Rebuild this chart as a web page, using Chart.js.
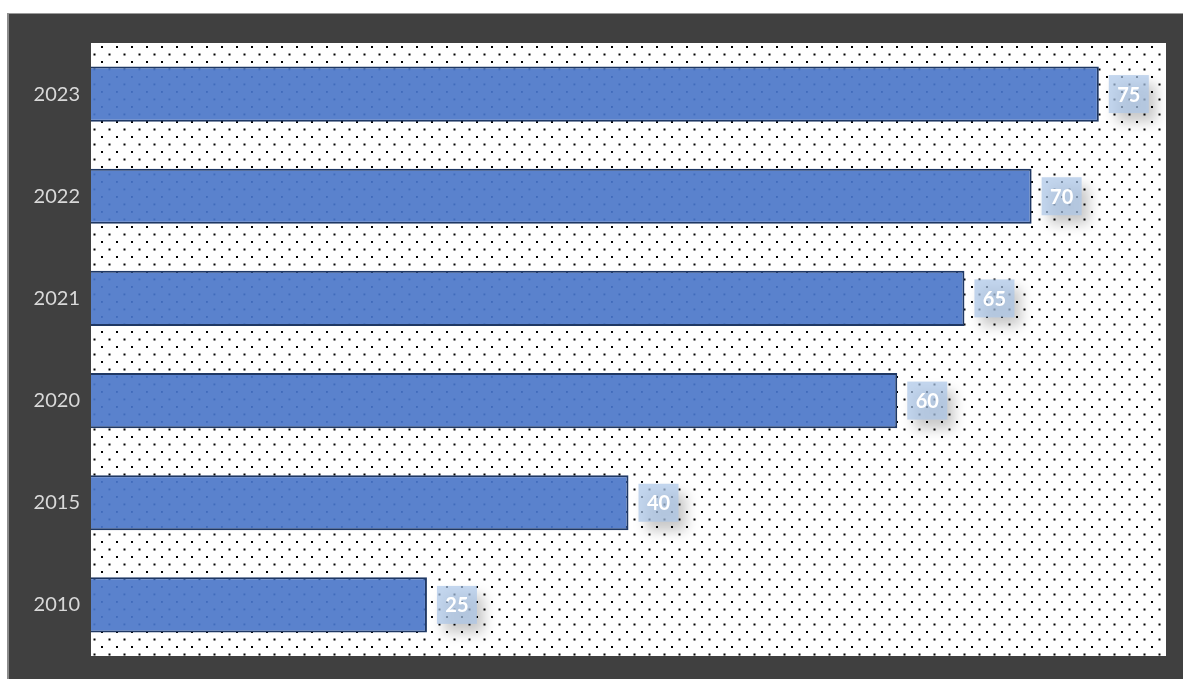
<!DOCTYPE html>
<html>
<head>
<meta charset="utf-8">
<script src="https://cdn.jsdelivr.net/npm/chart.js@4/dist/chart.umd.min.js"></script>
<style>
    html, body { margin: 0; padding: 0; background: #fff; overflow: hidden; }
    #frame {
        position: absolute; left: 7px; top: 13px; width: 1176px; height: 666px;
        background: #404040; border-left: 2px solid #8c8c8c; border-top: 1px solid #9a9a9a;
        box-sizing: border-box;
    }
    #wrap { position: absolute; left: 9px; top: 14px; width: 1174px; height: 665px; }
</style>
</head>
<body>
<div id="frame"></div>
<div id="wrap"><canvas id="chart" width="1174" height="665"></canvas></div>
<script>
// Data
const years = ['2010', '2015', '2020', '2021', '2022', '2023'];
const values = [25, 40, 60, 65, 70, 75];
const xMax = 80;

// dotted tile, used for plot background and bar fill
const makeDots = (bg, dot, size) => {
    const c = document.createElement('canvas');
    c.width = 15; c.height = 15;
    const g = c.getContext('2d');
    g.fillStyle = bg;
    g.fillRect(0, 0, 15, 15);
    g.fillStyle = dot;
    g.fillRect(2, 2, size, size);
    g.fillRect(9.5, 9.5, size, size);
    return document.getElementById('chart').getContext('2d').createPattern(c, 'repeat');
};

const plotBg = {
    id: 'plotBg',
    beforeDraw(chart) {
        const { ctx, chartArea: a } = chart;
        ctx.save();
        ctx.fillStyle = makeDots('#ffffff', '#000000', 2);
        ctx.fillRect(a.left, a.top, a.right - a.left, a.bottom - a.top);
        ctx.restore();
    }
};

const valueBoxes = {
    id: 'valueBoxes',
    afterDatasetsDraw(chart) {
        const { ctx } = chart;
        const meta = chart.getDatasetMeta(0);
        meta.data.forEach((bar, i) => {
            const x = bar.x + 10, w = 40, h = 38, y = bar.y - h / 2;
            ctx.save();
            ctx.shadowColor = 'rgba(0,0,0,0.3)';
            ctx.shadowBlur = 12;
            ctx.shadowOffsetX = 7;
            ctx.shadowOffsetY = 9;
            ctx.fillStyle = 'rgba(172,198,232,0.72)';
            ctx.fillRect(x, y, w, h);
            ctx.restore();

            ctx.save();
            ctx.fillStyle = '#ffffff';
            ctx.font = 'bold 20px Lato, "Open Sans", sans-serif';
            ctx.textAlign = 'center';
            ctx.textBaseline = 'middle';
            ctx.fillText(String(values[i]), x + w / 2, bar.y + 1);
            ctx.restore();
        });
    }
};

new Chart(document.getElementById('chart'), {
    type: 'bar',
    data: {
        labels: years,
        datasets: [{
            data: values,
            backgroundColor: makeDots('#5a82cd', '#416cbc', 1.8),
            borderColor: '#1f3864',
            borderWidth: 2,
            categoryPercentage: 1,
            barPercentage: 0.54
        }]
    },
    options: {
        indexAxis: 'y',
        responsive: false,
        animation: false,
        layout: { padding: { top: 29, right: 17, bottom: 22, left: 0 } },
        plugins: { legend: { display: false }, tooltip: { enabled: false } },
        scales: {
            x: { display: false, min: 0, max: xMax },
            y: {
                reverse: true,
                grid: { display: false, drawTicks: false },
                border: { display: false },
                ticks: {
                    color: '#d9d9d9',
                    padding: 11,
                    font: { family: 'Lato, "Open Sans", sans-serif', size: 20 }
                },
                afterFit(scale) { scale.width = 82; }
            }
        }
    },
    plugins: [plotBg, valueBoxes]
});
</script>
</body>
</html>
